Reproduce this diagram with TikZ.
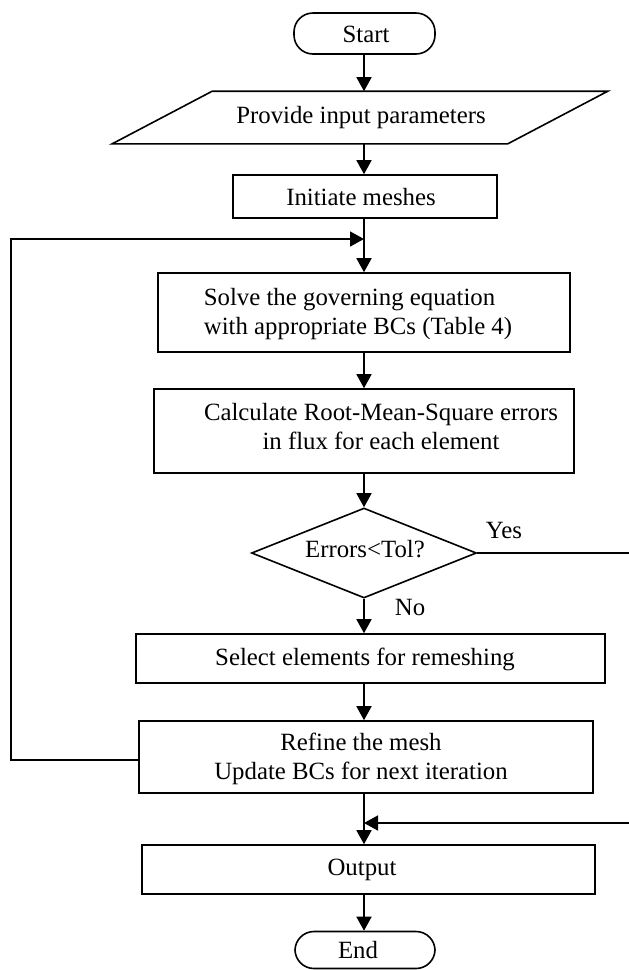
\documentclass[tikz,border=0pt]{standalone}
\usepackage{fontspec}
\setmainfont{Liberation Serif}
\usetikzlibrary{arrows.meta,shapes.geometric}
\begin{document}
\begin{tikzpicture}[x=1pt,y=-1pt,line width=1.6pt,
  txt/.style={font=\fontsize{24.8}{29}\selectfont, inner sep=0pt},
  box/.style={draw, inner sep=0pt, minimum width=#1},
  term/.style={draw, rounded corners=19pt, inner sep=0pt},
  arr/.style={-{Triangle[length=14pt,width=15pt]}}]
\useasboundingbox (0,0) rectangle (629,970);
% shapes
\node[term, minimum width=141pt, minimum height=41pt] (start) at (364.5,33.5) {};
\node[txt] (startT) at (366,34) {Start};
\node[inner sep=0pt, minimum width=394pt, minimum height=51pt] (input) at (360,117.5) {};
\draw ([xshift=50pt]input.north west) -- ([xshift=50pt]input.north east)
  -- ([xshift=-50pt]input.south east) -- ([xshift=-50pt]input.south west) -- cycle;
\node[txt] (inputT) at (361,118) {Provide input parameters};
\node[box=264pt, minimum height=43pt] (init) at (365,196.5) {};
\node[txt] (initT) at (361,197) {Initiate meshes};
\node[box=412pt, minimum height=79pt] (solve) at (364,312.5) {};
\node[txt, align=left] (solveT) at (358,314) {Solve the governing equation\\with appropriate BCs (Table 4)};
\node[box=420pt, minimum height=84pt] (calc) at (364,431) {};
\node[txt, align=center] (calcT) at (381,427) {Calculate Root-Mean-Square errors\\in flux for each element};
\node[draw, diamond, inner sep=0pt, minimum width=225pt, minimum height=90pt] (dec) at (364,553) {};
\node[txt] (decT) at (365,549) {Errors<Tol?};
\node[box=469pt, minimum height=49pt] (select) at (370.5,658.5) {};
\node[txt] (selectT) at (365,659) {Select elements for remeshing};
\node[box=454pt, minimum height=72pt] (refine) at (366,757) {};
\node[txt, align=center] (refineT) at (361,759) {Refine the mesh\\Update BCs for next iteration};
\node[box=453pt, minimum height=49pt] (output) at (368.5,869.5) {};
\node[txt] (outputT) at (362,870) {Output};
\node[term, minimum width=140pt, minimum height=37pt] (end) at (365,950) {};
\node[txt] (endT) at (358,950) {End};
% labels
\node[txt] (yes) at (504,530) {Yes};
\node[txt] (no) at (410,607) {No};
% coordinates
\coordinate (ax) at (364,0);
\coordinate (loopL) at (11,239);
\coordinate (loopB) at (11,760);
\coordinate (loopIn) at (364,239);
\coordinate (yesEnd) at (629,553);
\coordinate (retStart) at (629,823);
\coordinate (retIn) at (364,823);
% connectors
\draw[arr] (ax |- start.south) -- (ax |- input.north);
\draw[arr] (ax |- input.south) -- (ax |- init.north);
\draw[arr] (ax |- init.south) -- (ax |- solve.north);
\draw[arr] (ax |- solve.south) -- (ax |- calc.north);
\draw[arr] (ax |- calc.south) -- (dec.north);
\draw[arr] (dec.south) -- (ax |- select.north);
\draw[arr] (ax |- select.south) -- (ax |- refine.north);
\draw[arr] (ax |- refine.south) -- (ax |- output.north);
\draw[arr] (ax |- output.south) -- (ax |- end.north);
\draw[arr] (refine.west |- loopB) -- (loopB) -- (loopL) -- (loopIn);
\draw (dec.east) -- (yesEnd);
\draw[arr] (retStart) -- (retIn);
\end{tikzpicture}
\end{document}
